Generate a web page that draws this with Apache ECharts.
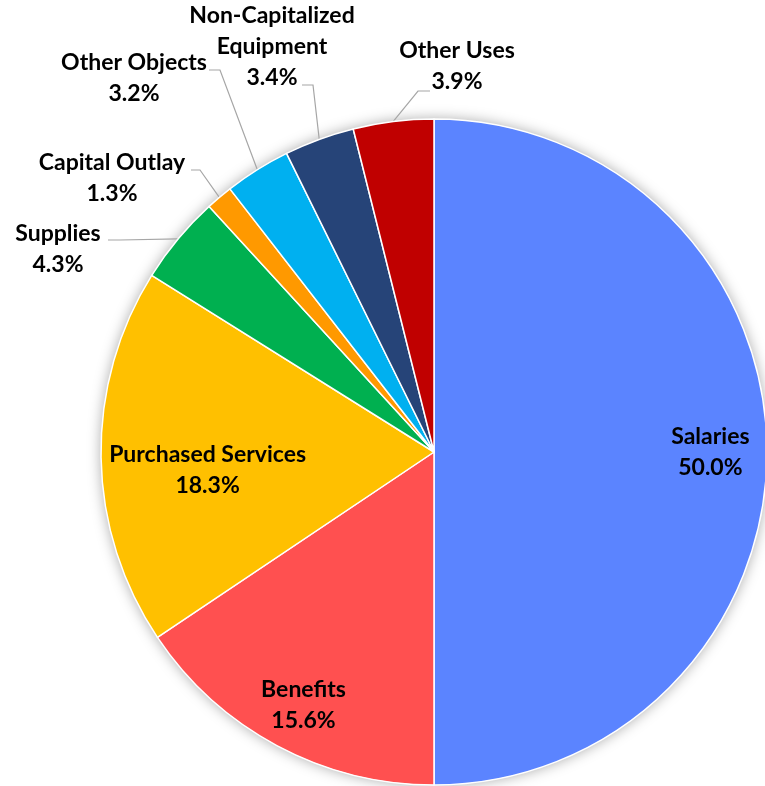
<!DOCTYPE html>
<html>
<head>
<meta charset="utf-8">
<script src="https://cdn.jsdelivr.net/npm/echarts@6/dist/echarts.min.js"></script>
<style>
html,body{margin:0;padding:0;background:#fff;}
#chart{width:765px;height:786px;}
</style>
</head>
<body>
<div id="chart"></div>
<script>
// ---- data ----
const categories = ['Salaries','Benefits','Purchased Services','Supplies','Capital Outlay','Other Objects','Non-Capitalized Equipment','Other Uses'];
const shares = [50.0, 15.6, 18.3, 4.3, 1.3, 3.2, 3.4, 3.9];
const colors = ['#5B84FF','#FF5050','#FFC000','#00B050','#FF9900','#00B0F0','#264478','#C00000'];

// ---- layout (styling, not data) ----
const CX = 434, CY = 452, R = 333;
// inside labels: radius fraction and angle shift (deg) from slice mid-angle
const innerLabelPlacement = {0: {r: 0.83, shift: 0}, 1: {r: 0.856, shift: -0.84}, 2: {r: 0.682, shift: -3.64}};
// outside labels: elbow/end of leader line and text centre, offsets from pie centre
const outerLabelPlacement = {
  3: {elbow: [-314, -212], end: [-326, -212], text: [-376, -203]},
  4: {elbow: [-234, -282], end: [-243, -282], text: [-322, -274]},
  5: {elbow: [-214, -382], end: [-225, -382], text: [-300, -374]},
  6: {elbow: [-121, -367], end: [-132, -367], text: [-162, -405]},
  7: {elbow: [-16, -361], end: [-4, -361], text: [23, -386]}
};

const total = shares.reduce((a, b) => a + b, 0);
const midAngles = [];
let acc = 0;
shares.forEach(v => { midAngles.push((acc + v / 2) / total * 2 * Math.PI); acc += v; });

const chart = echarts.init(document.getElementById('chart'), null, {renderer: 'canvas'});

const dataItems = categories.map((name, i) => {
  const item = {name: name, value: shares[i], itemStyle: {color: colors[i]}};
  if (innerLabelPlacement[i] != null) {
    item.label = {position: 'inside'};
    item.labelLine = {show: false};
  }
  return item;
});

chart.setOption({
  backgroundColor: '#ffffff',
  animation: false,
  series: [
    {
      type: 'pie',
      silent: true,
      center: [CX, CY],
      radius: R,
      z: 1,
      label: {show: false},
      labelLine: {show: false},
      itemStyle: {color: '#ffffff', shadowBlur: 14, shadowColor: 'rgba(0,0,0,0.35)'},
      data: [{value: 1, name: ''}]
    },
    {
      type: 'pie',
      center: [CX, CY],
      radius: R,
      startAngle: 90,
      clockwise: true,
      z: 2,
      avoidLabelOverlap: false,
      itemStyle: {borderColor: '#ffffff', borderWidth: 1.5},
      label: {
        show: true,
        position: 'outside',
        overflow: 'none',
        fontFamily: 'Lato',
        fontWeight: 'bold',
        fontSize: 23,
        lineHeight: 31,
        color: '#000000',
        align: 'center',
        formatter: p => p.name.replace('Non-Capitalized ', 'Non-Capitalized\n') + '\n' + p.value.toFixed(1) + '%'
      },
      labelLine: {show: true, lineStyle: {color: '#A6A6A6', width: 1.2}},
      labelLayout: function (params) {
        const i = params.dataIndex;
        const a = midAngles[i];
        const ip = innerLabelPlacement[i];
        if (ip != null) {
          const rr = R * ip.r;
          const b = a + ip.shift * Math.PI / 180;
          return {x: CX + rr * Math.sin(b), y: CY - rr * Math.cos(b), align: 'center', verticalAlign: 'middle'};
        }
        const pl = outerLabelPlacement[i];
        const start = [CX + R * Math.sin(a), CY - R * Math.cos(a)];
        return {
          x: CX + pl.text[0],
          y: CY + pl.text[1],
          align: 'center',
          verticalAlign: 'middle',
          labelLinePoints: [start, [CX + pl.elbow[0], CY + pl.elbow[1]], [CX + pl.end[0], CY + pl.end[1]]]
        };
      },
      data: dataItems
    }
  ]
});
</script>
</body>
</html>
